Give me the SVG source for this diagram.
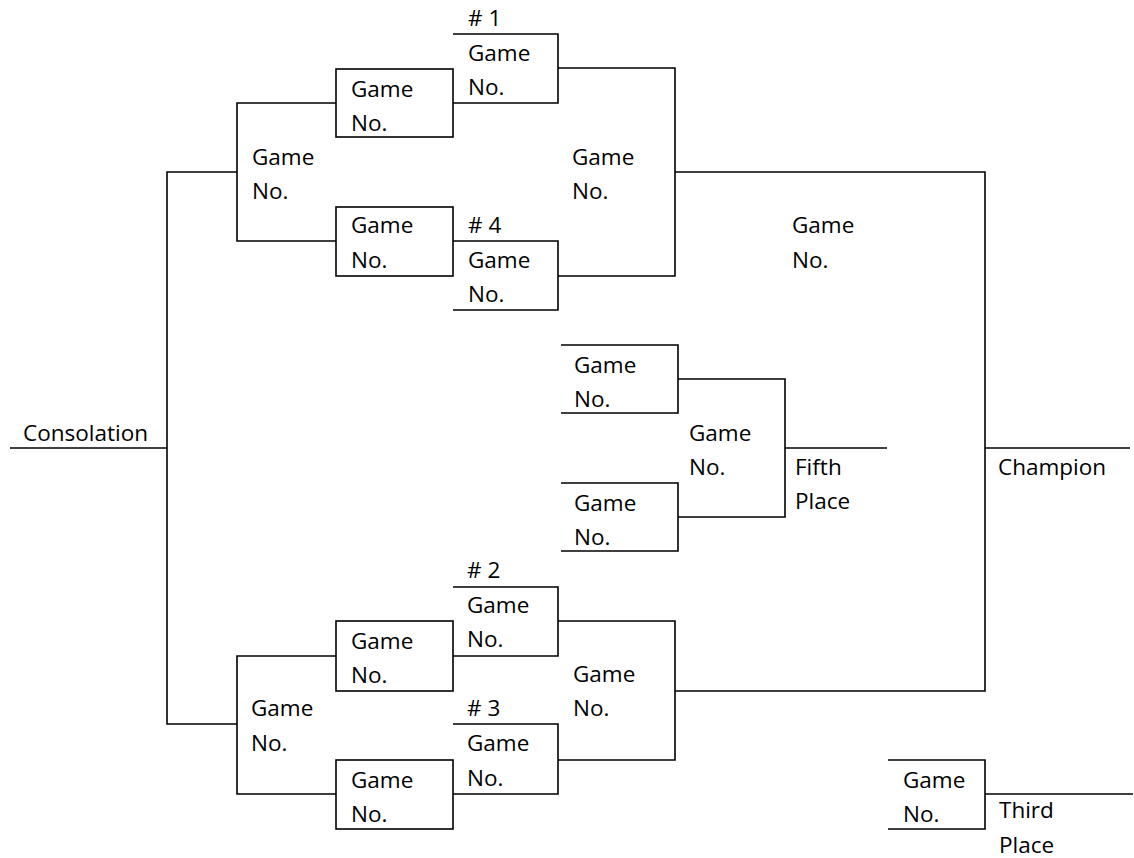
<svg xmlns="http://www.w3.org/2000/svg" width="1134" height="858" viewBox="0 0 1134 858">
<style>
.ln{fill:none;stroke:#000;stroke-width:1.6}
text{font-family:"Open Sans","Noto Sans",sans-serif;font-size:22.5px;fill:#000}
</style>
<rect width="1134" height="858" fill="#fff"/>
<g id="connectors" class="ln">
<path d="M336,103 H237 V241 H336"/>
<path d="M237,172 H167 V724 H237"/>
<path d="M10,448 H167"/>
<path d="M558,68 H675 V276 H558"/>
<path d="M675,172 H985 V691 H675"/>
<path d="M985,448 H1130"/>
<path d="M558,621 H675 V760 H558"/>
<path d="M336,656 H237 V794 H336"/>
<path d="M678,379 H785 V517 H678"/>
<path d="M785,448 H887"/>
<path d="M985,794 H1133"/>
</g>
<g id="g1">
<text x="468" y="26"># 1</text>
<path class="ln" d="M453,34 H558 V103 H453"/>
<text x="468" y="61">Game</text><text x="468" y="95">No.</text>
</g>
<g id="g4">
<text x="468" y="233"># 4</text>
<path class="ln" d="M453,241 H558 V310 H453"/>
<text x="468" y="268">Game</text><text x="468" y="302">No.</text>
</g>
<g id="r2a">
<rect class="ln" x="336" y="69" width="117" height="68"/>
<text x="351" y="97">Game</text><text x="351" y="131">No.</text>
</g>
<g id="r2b">
<rect class="ln" x="336" y="207" width="117" height="69"/>
<text x="351" y="233">Game</text><text x="351" y="268">No.</text>
</g>
<g id="semi1"><text x="252" y="165">Game</text><text x="252" y="199">No.</text></g>
<g id="top-final"><text x="572" y="165">Game</text><text x="572" y="199">No.</text></g>
<g id="final"><text x="792" y="233">Game</text><text x="792" y="268">No.</text></g>
<g id="consolation"><text x="23" y="441">Consolation</text></g>
<g id="champion"><text x="998" y="475">Champion</text></g>
<g id="f1">
<path class="ln" d="M561,345 H678 V413 H561"/>
<text x="574" y="373">Game</text><text x="574" y="407">No.</text>
</g>
<g id="f2">
<path class="ln" d="M561,483 H678 V551 H561"/>
<text x="574" y="511">Game</text><text x="574" y="545">No.</text>
</g>
<g id="fifth-game"><text x="689" y="441">Game</text><text x="689" y="475">No.</text></g>
<g id="fifth"><text x="795" y="475">Fifth</text><text x="795" y="509">Place</text></g>
<g id="g2">
<text x="467" y="578"># 2</text>
<path class="ln" d="M453,587 H558 V656 H453"/>
<text x="467" y="613">Game</text><text x="467" y="647">No.</text>
</g>
<g id="g3">
<text x="467" y="716"># 3</text>
<path class="ln" d="M453,724 H558 V794 H453"/>
<text x="467" y="751">Game</text><text x="467" y="786">No.</text>
</g>
<g id="r2c">
<rect class="ln" x="336" y="621" width="117" height="70"/>
<text x="351" y="649">Game</text><text x="351" y="683">No.</text>
</g>
<g id="r2d">
<rect class="ln" x="336" y="760" width="117" height="69"/>
<text x="351" y="788">Game</text><text x="351" y="822">No.</text>
</g>
<g id="semi2"><text x="251" y="716">Game</text><text x="251" y="751">No.</text></g>
<g id="bottom-final"><text x="573" y="682">Game</text><text x="573" y="716">No.</text></g>
<g id="third-game">
<path class="ln" d="M888,760 H985 V829 H888"/>
<text x="903" y="788">Game</text><text x="903" y="822">No.</text>
</g>
<g id="third"><text x="999" y="818">Third</text><text x="999" y="853">Place</text></g>
</svg>
